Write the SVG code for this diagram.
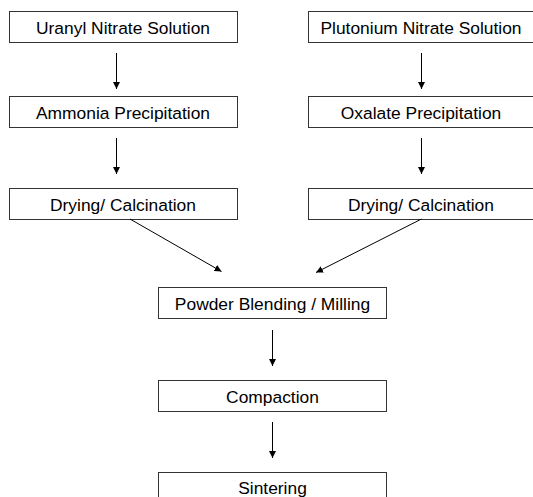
<svg xmlns="http://www.w3.org/2000/svg" width="533" height="497" viewBox="0 0 533 497">
<style>
.box{fill:#fff;stroke:#333;stroke-width:1}
.lbl{font-family:"Liberation Sans",Arial,sans-serif;font-size:17.4px;fill:#000;text-anchor:middle}
.con{stroke:#000;stroke-width:1;fill:none;marker-end:url(#ah)}
</style>
<defs>
<marker id="ah" markerUnits="userSpaceOnUse" markerWidth="8" markerHeight="7" refX="7" refY="3.5" orient="auto">
<path d="M0,0 L7,3.5 L0,7 z" fill="#000"/>
</marker>
</defs>
<rect width="533" height="497" fill="#fff"/>
<g id="n1"><rect class="box" x="9.5" y="11.5" width="228" height="31"/><text class="lbl" x="123" y="33.5">Uranyl Nitrate Solution</text></g>
<g id="n2"><rect class="box" x="9.5" y="96.5" width="228" height="31"/><text class="lbl" x="123" y="118.5">Ammonia Precipitation</text></g>
<g id="n3"><rect class="box" x="9.5" y="188.5" width="228" height="31"/><text class="lbl" x="123" y="210.5">Drying/ Calcination</text></g>
<g id="n4"><rect class="box" x="308.5" y="11.5" width="228" height="31"/><text class="lbl" x="421" y="33.5">Plutonium Nitrate Solution</text></g>
<g id="n5"><rect class="box" x="308.5" y="96.5" width="228" height="31"/><text class="lbl" x="421" y="118.5">Oxalate Precipitation</text></g>
<g id="n6"><rect class="box" x="308.5" y="188.5" width="228" height="31"/><text class="lbl" x="421" y="210.5">Drying/ Calcination</text></g>
<g id="n7"><rect class="box" x="158.5" y="287.5" width="228" height="31"/><text class="lbl" x="272.5" y="309.5">Powder Blending / Milling</text></g>
<g id="n8"><rect class="box" x="158.5" y="380.5" width="228" height="31"/><text class="lbl" x="272.5" y="402.5">Compaction</text></g>
<g id="n9"><rect class="box" x="158.5" y="472.5" width="228" height="31"/><text class="lbl" x="272.5" y="494">Sintering</text></g>
<g id="connectors">
<line class="con" x1="116.5" y1="53" x2="116.5" y2="89"/>
<line class="con" x1="116.5" y1="138" x2="116.5" y2="174"/>
<line class="con" x1="421.5" y1="53" x2="421.5" y2="89"/>
<line class="con" x1="421.5" y1="138" x2="421.5" y2="174"/>
<line class="con" x1="130" y1="219" x2="221.5" y2="271.5"/>
<line class="con" x1="421.5" y1="219" x2="316" y2="272.5"/>
<line class="con" x1="272.5" y1="330" x2="272.5" y2="366"/>
<line class="con" x1="272.5" y1="422" x2="272.5" y2="458"/>
</g>
</svg>
